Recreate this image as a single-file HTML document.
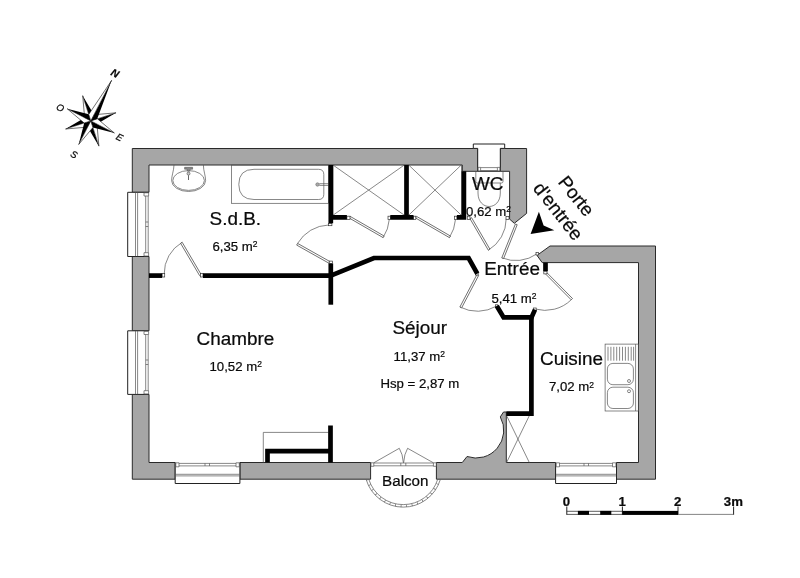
<!DOCTYPE html>
<html><head><meta charset="utf-8">
<style>
html,body{margin:0;padding:0;background:#fff;}
body{width:800px;height:578px;overflow:hidden;font-family:"Liberation Sans",sans-serif;}
svg{display:block;will-change:transform;opacity:0.999;}
text{font-family:"Liberation Sans",sans-serif;fill:#0a0a0a;stroke:#0a0a0a;stroke-width:0.22;}
.w{fill:#a6a6a6;stroke:#2a2a2a;stroke-width:1;stroke-linejoin:miter;}
.b{fill:none;stroke:#000;stroke-width:4.7;stroke-linejoin:miter;stroke-linecap:butt;}
.t{fill:none;stroke:#555;stroke-width:0.7;}
.tw{fill:#fff;stroke:#555;stroke-width:0.7;}
.d{fill:#fff;stroke:#333;stroke-width:0.7;}
.win{fill:#fff;stroke:#222;stroke-width:1;}
.big{font-size:18.9px;}
.sm{font-size:13.2px;}
</style></head><body>
<svg width="800" height="578" viewBox="0 0 800 578">
<rect width="800" height="578" fill="#fff"/>

<!-- ===== WALLS (gray) ===== -->
<g id="walls">
<!-- top-left corner + left wall upper + top wall to WC window -->
<path class="w" d="M132.3,148.5 H477.7 V171.3 H462.3 V165 H149 V192.3 H132.3 Z"/>
<!-- left wall middle -->
<path class="w" d="M132.3,256.5 H149 V330.8 H132.3 Z"/>
<!-- left wall bottom + bottom wall to window -->
<path class="w" d="M132.3,394.4 H149 V462.5 H175.2 V479.2 H132.3 Z"/>
<!-- bottom wall between window and balcony -->
<path class="w" d="M239.9,462.5 H370.6 V479.2 H239.9 Z"/>
<!-- bottom wall balcony to kitchen window with curved corner -->
<path class="w" d="M436.4,462.5 H462.3 L467,456.5 A27.7,27.7 0 0 0 500.3,416.9 L503.5,412 H506.3 V462.5 H555.6 V479.2 H436.4 Z"/>
<!-- bottom right corner + right wall + kitchen top -->
<path class="w" d="M616.5,462.5 H638.5 V262.6 H542.2 L537,255.4 L550,246 H655.5 V479.2 H616.5 Z"/>
<!-- block right of WC -->
<path class="w" d="M500.3,148.5 H526.6 V213.4 L514.3,223.3 L509.6,219.1 V171.3 H500.3 Z"/>
</g>

<!-- ===== WINDOWS ===== -->
<g id="windows">
<!-- left window 1 -->
<path class="win" d="M149,192.3 H127.7 V256.5 H149"/>
<path class="t" stroke="#949494" d="M135.5,192.5 V256.3 M137.6,192.5 V256.3 M145.7,196 V252.7 M148.2,196 V252.7 M144,192.8 H148.6 V196 H144 Z M144,252.7 H148.6 V256 H144 Z M145.7,222 H148.2 M145.7,226.5 H148.2"/>
<!-- left window 2 -->
<path class="win" d="M149,330.8 H127.7 V394.4 H149"/>
<path class="t" stroke="#949494" d="M135.5,331 V394.2 M137.6,331 V394.2 M145.7,334.5 V390.7 M148.2,334.5 V390.7 M144,331.3 H148.6 V334.5 H144 Z M144,390.7 H148.6 V394 H144 Z M145.7,360 H148.2 M145.7,364.5 H148.2"/>
<!-- bottom window 1 -->
<path class="win" d="M175.2,462.5 V483.5 H239.9 V462.5"/>
<path class="t" stroke="#949494" d="M175.4,474.3 H239.7 M175.4,475.9 H239.7 M179,463.4 H236 M179,465.9 H236 M175.8,462.8 H179 V466.8 H175.8 Z M236,462.8 H239.3 V466.8 H236 Z M205,463.4 V465.9 M209.5,463.4 V465.9"/>
<!-- kitchen window -->
<path class="win" d="M555.6,462.5 V483.5 H616.5 V462.5"/>
<path class="t" stroke="#949494" d="M555.8,474.3 H616.3 M555.8,475.9 H616.3 M559.5,463.4 H612.5 M559.5,465.9 H612.5 M556.2,462.8 H559.5 V466.8 H556.2 Z M612.5,462.8 H615.9 V466.8 H612.5 Z M584,463.4 V465.9 M588.5,463.4 V465.9"/>
<!-- WC window -->
<path class="win" d="M473.3,144 H504.7 V148.4 H500.3 V171.3 H477.7 V148.4 H473.3 Z"/>
<path class="t" stroke="#949494" d="M480.6,167.6 H497.4 M480.6,170.5 H497.4 M478,167.4 H480.6 V171 H478 Z M497.4,167.4 H500 V171 H497.4 Z"/>
</g>

<!-- ===== BALCONY ===== -->
<g id="balcony">
<path class="t" d="M366.2,479.6 A38.7,38.7 0 0 0 440.3,479.6" stroke-width="0.8"/>
<path class="t" d="M368.9,479.6 A36.1,36.1 0 0 0 437.6,479.6" stroke-width="0.8"/>
<path d="M367.5,479.6 A37.4,37.4 0 0 0 439,479.6" fill="none" stroke="#666" stroke-width="2.4" stroke-dasharray="0.7 4.9"/>
<path class="t" stroke="#777" d="M373.8,463 H433.4 M373.8,465.8 H433.4 M370.9,462.8 H373.8 V466.3 H370.9 Z M433.4,462.8 H436.5 V466.3 H433.4 Z M400.8,463 V465.8 M405.8,463 V465.8"/>
<!-- french doors -->
<path class="t" d="M373.8,462.8 L399.3,448.3 Q402.8,454 403.4,462.8 M433.4,462.8 L407.6,448.3 Q404.2,454 403.6,462.8"/>
</g>

<!-- ===== FIXTURES ===== -->
<g id="fixtures">
<!-- washbasin -->
<path class="t" d="M174,165 C173.8,171 171.6,175.5 171.6,180.6 A17,10.9 0 0 0 205.6,180.6 C205.6,175.5 203.4,171 203.4,165"/>
<ellipse class="t" cx="188.6" cy="180.5" rx="15.8" ry="9.9" stroke="#888"/>
<path d="M184.6,167.3 H192.6 V169.2 H190.4 L189.6,171.2 H187.6 L186.8,169.2 H184.6 Z" fill="#888" stroke="#444" stroke-width="0.5"/>
<circle cx="188.5" cy="173.6" r="1.5" fill="#ccc" stroke="#444" stroke-width="0.6"/>
<line x1="188.5" y1="175.2" x2="188.5" y2="180" stroke="#666" stroke-width="1"/>
<!-- bathtub -->
<rect class="t" x="231.5" y="165" width="97" height="38.3"/>
<path class="t" d="M254,169.3 H318.6 Q323.8,169.3 323.8,174.5 V194.3 Q323.8,199.5 318.6,199.5 H254 Q238.8,199.5 238.8,184.4 Q238.8,169.3 254,169.3 Z"/>
<circle cx="317.5" cy="184.5" r="1.7" fill="#aaa" stroke="#666" stroke-width="0.6"/>
<path class="t" d="M319.3,183.7 H328.5 M319.3,185.4 H328.5"/>
<!-- closets X -->
<path class="t" stroke="#6a6a6a" d="M333,165 L404.3,215.2 M333,215.2 L404.3,165 M408.7,165 L461.3,215.2 M408.7,215.2 L461.3,165"/>
<path class="t" d="M333,165 V215 M461.5,165 V215" stroke="#333"/>
<!-- small closet near kitchen -->
<path class="t" stroke="#6a6a6a" d="M506.6,415.7 L529.3,462.5 M506.6,462.5 L529.3,415.7"/>
<!-- toilet -->
<path class="t" d="M475.8,171.5 V181.5 Q475.8,183 477.3,183 H501.5 Q503,183 503,181.5 V171.5" stroke="#999"/>
<path class="t" d="M478,183 V193 C478,211 500.3,211 500.3,193 V183" stroke="#999"/>
<!-- kitchen sink -->
<rect class="t" x="605.1" y="344.1" width="33.2" height="66.9" stroke="#777"/>
<line class="t" x1="635.6" y1="344.1" x2="635.6" y2="411" stroke="#888"/>
<path class="t" stroke="#777" d="M608,346.8 V360.7 M610.9,346.8 V360.7 M613.8,346.8 V360.7 M616.7,346.8 V360.7 M619.6,346.8 V360.7 M622.5,346.8 V360.7 M625.4,346.8 V360.7 M628.3,346.8 V360.7 M631.2,346.8 V360.7 M633.6,346.8 V360.7"/>
<rect class="t" x="607.4" y="363.4" width="26" height="21.3" rx="5.5" stroke="#666"/>
<rect class="t" x="607.4" y="387.2" width="26" height="21.3" rx="5.5" stroke="#666"/>
<circle class="t" cx="629" cy="381" r="1.5"/>
<circle class="t" cx="629" cy="391.2" r="1.5"/>
<!-- thin rect by L wall -->
<path class="t" d="M263.3,462.5 V432.4 H328.4"/>
</g>

<!-- ===== DOORS ===== -->
<g id="doors">
<!-- SdB / Chambre -->
<path class="t" d="M182.2,242.3 A36,36 0 0 0 164.2,274.0"/>
<path class="d" d="M201.2,274.6 L182.2,242.3 L180.6,243.3 L199.6,275.6 Z"/>
<rect class="d" x="162.1" y="273.6" width="2.6" height="3.4"/>
<rect class="d" x="200.4" y="273.6" width="2.6" height="3.4"/>
<!-- SdB / corridor -->
<path class="t" d="M297.6,243.4 A37.5,37.5 0 0 1 328.6,225.0"/>
<path class="d" d="M330.0,261.6 L297.6,243.4 L296.7,245.1 L329.1,263.3 Z"/>
<rect class="d" x="328.6" y="223.4" width="3.3" height="2.3"/>
<rect class="d" x="329.2" y="261.1" width="3.2" height="2.4"/>
<!-- closet 1 -->
<path class="t" d="M383.1,237.6 A39,39 0 0 0 389.3,219.4"/>
<path class="d" d="M349.2,218.0 L383.1,237.6 L384.1,236.0 L350.2,216.4 Z"/>
<rect class="d" x="346.9" y="216.2" width="3.1" height="3.2"/>
<rect class="d" x="388" y="216.2" width="2.6" height="3.2"/>
<!-- closet 2 -->
<path class="t" d="M449.4,237.6 A39,39 0 0 0 455.5,219.4"/>
<path class="d" d="M415.6,218.0 L449.4,237.6 L450.4,236.0 L416.6,216.4 Z"/>
<rect class="d" x="413.5" y="216.2" width="2.3" height="3.2"/>
<rect class="d" x="454.4" y="216.2" width="2.5" height="3.2"/>
<!-- WC -->
<path class="t" d="M488.3,250.2 A36.5,36.5 0 0 0 506.2,218.8"/>
<path class="d" d="M470.0,218.7 L488.3,250.2 L489.9,249.2 L471.6,217.7 Z"/>
<rect class="d" x="467.3" y="216.2" width="2.7" height="3.2"/>
<rect class="d" x="506" y="216.4" width="3.0" height="3.0"/>
<!-- entry -->
<path class="t" d="M501.8,257.8 A36.5,36.5 0 0 0 537.0,253.8"/>
<path class="d" d="M515.4,224.0 L501.8,257.8 L503.6,258.5 L517.2,224.7 Z"/>
<rect class="d" x="536" y="252.6" width="2.4" height="2.4"/>
<!-- sejour -->
<path class="t" d="M459.9,307.0 A38,38 0 0 0 496.7,306.0"/>
<path class="d" d="M476.9,274.6 L459.9,307.0 L461.6,307.9 L478.6,275.5 Z"/>
<rect class="d" x="475.6" y="272.8" width="2.6" height="2.2"/>
<rect class="d" x="495.4" y="304.8" width="2.4" height="2.2"/>
<!-- cuisine -->
<path class="t" d="M571.2,299.8 A37.5,37.5 0 0 1 535.0,309.0"/>
<path class="d" d="M545.8,274.2 L571.2,299.8 L572.5,298.5 L547.1,272.9 Z"/>
<rect class="d" x="543.8" y="271.2" width="3.2" height="2.7"/>
<rect class="d" x="533.6" y="308" width="2.6" height="2.5"/>
</g>

<!-- ===== BLACK PARTITIONS ===== -->
<g id="partitions">
<path class="b" d="M149,275.6 H162.1"/>
<path class="b" d="M203,275.6 H330.8"/>
<path class="b" d="M330.8,263.5 V304.7"/>
<path class="b" d="M330.8,275.6 L373.9,258 H468.6 L477.3,273.7"/>
<path class="b" d="M330.8,165 V223.2 M328.6,217.4 H346.9"/>
<path class="b" d="M406.5,165 V219.7 M390.3,217.4 H413.5"/>
<path class="b" d="M463.9,171.3 V219.7 M456.9,217.4 H466.2"/>
<path class="b" d="M545.5,262.6 V271.2"/>
<path class="b" d="M496.8,306 L503.6,317.4 H531.5 L535,309.6"/>
<path class="b" d="M531.4,315.2 V413.7 H506.3"/>
<path class="b" d="M330.5,425.4 V462.5 M332.7,451.1 H267.5 V462.5"/>
</g>

<!-- ===== ARROW ===== -->
<path d="M530.6,234.1 L538.9,211.8 L543.6,225.6 L554.3,230.3 Z" fill="#000"/>

<!-- ===== COMPASS ===== -->
<g id="compass">
<g transform="translate(90.8,120.9) rotate(27.2)">
<g transform="rotate(45)"><path d="M0,0 L4.9,-4.9 L0,-26.5 Z" fill="#000"/><path d="M0,0 L-4.9,-4.9 L0,-26.5 Z" fill="#fff" stroke="#000" stroke-width="0.5" stroke-linejoin="miter"/></g>
<g transform="rotate(135)"><path d="M0,0 L4.9,-4.9 L0,-26.5 Z" fill="#000"/><path d="M0,0 L-4.9,-4.9 L0,-26.5 Z" fill="#fff" stroke="#000" stroke-width="0.5" stroke-linejoin="miter"/></g>
<g transform="rotate(225)"><path d="M0,0 L4.9,-4.9 L0,-26.5 Z" fill="#000"/><path d="M0,0 L-4.9,-4.9 L0,-26.5 Z" fill="#fff" stroke="#000" stroke-width="0.5" stroke-linejoin="miter"/></g>
<g transform="rotate(315)"><path d="M0,0 L4.9,-4.9 L0,-26.5 Z" fill="#000"/><path d="M0,0 L-4.9,-4.9 L0,-26.5 Z" fill="#fff" stroke="#000" stroke-width="0.5" stroke-linejoin="miter"/></g>
<g transform="rotate(90)"><path d="M0,0 L4.9,-4.9 L0,-26.5 Z" fill="#000"/><path d="M0,0 L-4.9,-4.9 L0,-26.5 Z" fill="#fff" stroke="#000" stroke-width="0.5" stroke-linejoin="miter"/></g>
<g transform="rotate(180)"><path d="M0,0 L4.9,-4.9 L0,-26.5 Z" fill="#000"/><path d="M0,0 L-4.9,-4.9 L0,-26.5 Z" fill="#fff" stroke="#000" stroke-width="0.5" stroke-linejoin="miter"/></g>
<g transform="rotate(270)"><path d="M0,0 L4.9,-4.9 L0,-26.5 Z" fill="#000"/><path d="M0,0 L-4.9,-4.9 L0,-26.5 Z" fill="#fff" stroke="#000" stroke-width="0.5" stroke-linejoin="miter"/></g>
<g transform="rotate(0)"><path d="M0,0 L4.8,-4.8 L0,-45.6 Z" fill="#000"/><path d="M0,0 L-4.8,-4.8 L0,-45.6 Z" fill="#fff" stroke="#000" stroke-width="0.5" stroke-linejoin="miter"/></g>
</g>
<g font-style="italic" text-anchor="middle">
<text transform="translate(115,73.1) rotate(27)" font-size="10.5" font-weight="bold" dy="0.36em">N</text>
<text transform="translate(60.4,107.6) rotate(27)" font-size="9.5" dy="0.36em">O</text>
<text transform="translate(119.6,137.2) rotate(27)" font-size="9.5" dy="0.36em">E</text>
<text transform="translate(74.2,154.4) rotate(27)" font-size="9.5" dy="0.36em">S</text>
</g>
</g>

<!-- ===== SCALE BAR ===== -->
<g id="scale">
<path d="M566.8,506.5 V514.8 M622.4,506.5 V514.8 M678.0,506.5 V514.8 M733.6,506.5 V514.8" stroke="#222" stroke-width="1" fill="none"/>
<path d="M566.8,514.4 H678 M566.8,511.3 H622.4" stroke="#333" stroke-width="0.8" fill="none"/><path d="M678,514.4 H733.6" stroke="#666" stroke-width="0.8" fill="none"/>
<rect x="577.9" y="510.9" width="11.1" height="3.9" fill="#000"/>
<rect x="600.2" y="510.9" width="11.1" height="3.9" fill="#000"/>
<rect x="622.4" y="510.9" width="55.6" height="3.9" fill="#000"/>
<g font-size="13.2" font-weight="bold" text-anchor="middle" stroke-width="0.1">
<text x="566.5" y="505.7">0</text><text x="622.1" y="505.7">1</text><text x="677.7" y="505.7">2</text><text x="733.4" y="505.7">3m</text>
</g>
</g>

<!-- ===== TEXT ===== -->
<g id="labels">
<text class="big" x="235.3" y="224.6" text-anchor="middle">S.d.B.</text>
<text class="sm" x="212.4" y="250.7">6,35 m<tspan font-size="8.5" dy="-3.6">2</tspan></text>
<text class="big" x="235.4" y="345.4" text-anchor="middle">Chambre</text>
<text class="sm" x="209.5" y="371">10,52 m<tspan font-size="8.5" dy="-3.6">2</tspan></text>
<text class="big" x="419.7" y="334.1" text-anchor="middle">Séjour</text>
<text class="sm" x="393.6" y="360.7">11,37 m<tspan font-size="8.5" dy="-3.6">2</tspan></text>
<text class="sm" x="380.5" y="387.7">Hsp = 2,87 m</text>
<text class="big" x="487.7" y="190.2" text-anchor="middle">WC</text>
<text class="sm" x="466" y="216">0,62 m<tspan font-size="8.5" dy="-3.6">2</tspan></text>
<text class="big" x="512.1" y="275.4" text-anchor="middle">Entrée</text>
<text class="sm" x="491.5" y="302.5">5,41 m<tspan font-size="8.5" dy="-3.6">2</tspan></text>
<text class="big" x="571.5" y="365.3" text-anchor="middle">Cuisine</text>
<text class="sm" x="549" y="391.2">7,02 m<tspan font-size="8.5" dy="-3.6">2</tspan></text>
<text font-size="15.2" x="405.3" y="485.6" text-anchor="middle">Balcon</text>
<g transform="translate(557.2,182.3) rotate(51.5)"><text class="big" x="0" y="0">Porte</text></g>
<g transform="translate(532.3,188.5) rotate(52)"><text class="big" x="0" y="0">d'entrée</text></g>
</g>
</svg>
</body></html>
